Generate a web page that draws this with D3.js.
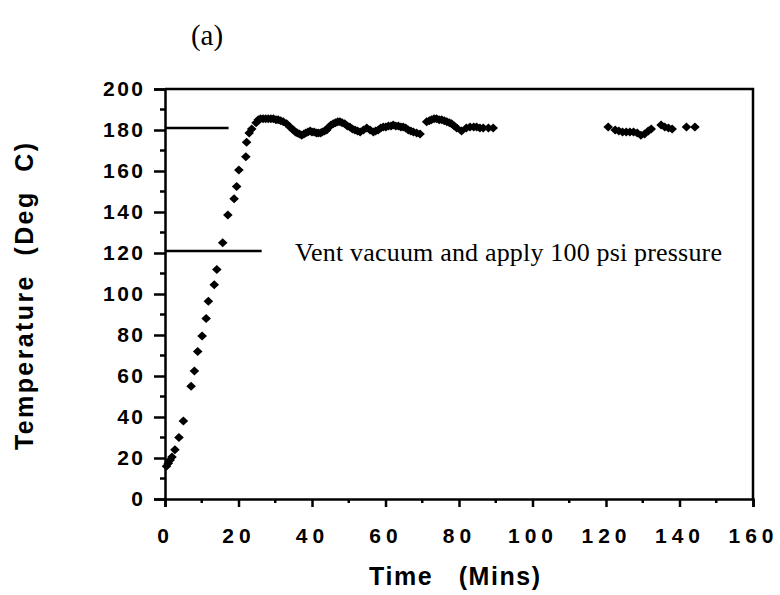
<!DOCTYPE html>
<html>
<head>
<meta charset="utf-8">
<script src="https://cdn.jsdelivr.net/npm/d3@7"></script>
<style>
  body { margin: 0; background: #fff; }
  svg text { fill: #000; }
</style>
</head>
<body>
<div id="chart"></div>
<script>
// temperature readings, time in minutes
var riseTime = [0.4, 0.9, 1.4, 1.9, 2.7, 3.8, 5.0, 7.1, 8.0, 8.9, 10.1, 11.2, 11.8, 13.4, 14.1,
    15.7, 17.1, 18.8, 19.5, 20.1, 22.0, 22.2, 22.9, 23.6, 24.8, 25.4];
var riseTemp = [16, 17.5, 19, 20.5, 24, 30, 38, 55, 62.5, 72, 79.5, 88, 96.5, 104.5, 112,
    125, 138.5, 146.5, 152.5, 160.5, 167, 174, 178.5, 180.5, 183.5, 185];

var holdTime = [26.0, 26.7, 27.4, 28.1, 28.8, 29.5, 30.2, 30.8, 31.5, 32.2, 33.1, 34.0, 34.9, 35.5,
    36.0, 36.6, 37.2, 37.8, 38.3, 38.9, 39.5, 40.0, 40.6, 41.2, 41.7, 42.3, 42.8, 43.4, 44.0, 44.6,
    45.2, 45.8, 46.4, 47.0, 47.6, 48.2, 48.9, 49.6, 50.3, 51.0, 51.7, 52.4, 53.1, 54.0, 54.9, 55.8,
    56.7, 57.3, 58.0, 58.7, 59.4, 60.1, 60.8, 61.5, 62.1, 62.8, 63.5, 64.2, 64.8, 65.5, 66.2, 66.9,
    67.6, 68.5, 69.4, 71.2, 71.9, 72.5, 73.2, 73.9, 74.6, 75.3, 76.0, 76.7, 77.4, 78.0, 78.7, 79.4,
    80.7, 82.0, 83.0, 84.0, 84.8, 85.7, 86.6, 88.0, 89.3];
var holdTemp = [185.5, 185.5, 185.5, 185.5, 185.5, 185.5, 185, 185, 184.5, 184, 183, 181.5, 180, 179,
    178.5, 178, 177.5, 178, 178.5, 179, 179.5, 179, 179, 178.5, 178.5, 178.5, 179, 179.5, 180, 181.5,
    182.5, 183, 183.5, 184, 184, 183.5, 183, 182, 181.5, 180.5, 180, 179.5, 179, 180, 181, 180,
    179, 179.5, 180, 181, 181.5, 181.5, 182, 182, 182.5, 182, 182, 181.5, 181.5, 181, 180, 179.5,
    179, 178.5, 178, 184, 184.5, 185, 185.5, 185.5, 185, 185, 184.5, 184, 183.5, 183, 182, 181,
    179.5, 181, 181.5, 181.5, 181.5, 181, 181, 181, 181];

var lateTime = [120.6, 122.5, 123.5, 124.5, 125.5, 126.5, 127.5, 128.5, 129.5, 130.5, 131.5, 132.3,
    135.0, 136.0, 137.0, 138.0, 141.9, 144.2];
var lateTemp = [181.5, 180, 179.5, 179, 179, 179, 179, 178.5, 177.5, 178, 179.5, 180.5,
    182.5, 181.5, 181, 180.5, 181.5, 181.5];

// reference lines: [temperature, end time]
var refLines = [[181, 17.3], [121, 26.3]];
var noteText = "Vent vacuum and apply 100 psi pressure";

var xTicks = d3.range(0, 161, 20);
var yTicks = d3.range(0, 201, 20);

var width = 780, height = 595;
var margin = {top: 89, right: 27, bottom: 96, left: 165};

var svg = d3.select("#chart").append("svg")
    .attr("width", width)
    .attr("height", height);

var x = d3.scaleLinear().domain([0, 160]).range([margin.left, width - margin.right]);
var y = d3.scaleLinear().domain([0, 200]).range([height - margin.bottom, margin.top]);

var tickFont = "Liberation Sans, Arial, sans-serif";

// frame top + right
svg.append("path")
    .attr("d", "M" + x(0) + "," + y(200) + " H" + x(160) + " V" + y(0))
    .attr("fill", "none")
    .attr("stroke", "#000")
    .attr("stroke-width", 2.5);

// y axis
var yAxis = svg.append("g")
    .attr("transform", "translate(" + x(0) + ",0)")
    .call(d3.axisLeft(y).tickValues(yTicks).tickSize(11).tickPadding(11));
// minor y ticks
svg.append("g").selectAll("line")
    .data(d3.range(10, 200, 20))
    .enter().append("line")
    .attr("x1", x(0) - 5).attr("x2", x(0))
    .attr("y1", function(d) { return y(d); })
    .attr("y2", function(d) { return y(d); })
    .attr("stroke", "#000").attr("stroke-width", 2.5);

// x axis
var xAxis = svg.append("g")
    .attr("transform", "translate(0," + y(0) + ")")
    .call(d3.axisBottom(x).tickValues(xTicks).tickSize(8).tickPadding(21));
svg.append("g").selectAll("line")
    .data(d3.range(10, 160, 20))
    .enter().append("line")
    .attr("x1", function(d) { return x(d); })
    .attr("x2", function(d) { return x(d); })
    .attr("y1", y(0)).attr("y2", y(0) + 4)
    .attr("stroke", "#000").attr("stroke-width", 2.5);

[xAxis, yAxis].forEach(function(a) {
    a.select(".domain").attr("stroke", "#000").attr("stroke-width", 2.5);
    a.selectAll(".tick line").attr("stroke", "#000").attr("stroke-width", 2.5);
    a.selectAll(".tick text")
        .attr("font-family", tickFont)
        .attr("font-size", 21)
        .attr("font-weight", "bold");
});
yAxis.selectAll(".tick text").style("letter-spacing", "2.5px").attr("dx", 2.5);
xAxis.selectAll(".tick text").style("letter-spacing", "5px").attr("dx", 0);

// reference lines
svg.selectAll(".ref")
    .data(refLines)
    .enter().append("line")
    .attr("class", "ref")
    .attr("x1", x(0))
    .attr("x2", function(d) { return x(d[1]); })
    .attr("y1", function(d) { return y(d[0]); })
    .attr("y2", function(d) { return y(d[0]); })
    .attr("stroke", "#000")
    .attr("stroke-width", 2.5);

svg.append("text")
    .attr("x", 295)
    .attr("y", 261)
    .attr("font-family", "Liberation Serif, Times New Roman, serif")
    .attr("font-size", 26)
    .attr("textLength", 427)
    .text(noteText);

// points
var pts = [];
[[riseTime, riseTemp], [holdTime, holdTemp], [lateTime, lateTemp]].forEach(function(s) {
    s[0].forEach(function(t, i) { pts.push([t, s[1][i]]); });
});

svg.append("g").selectAll("path")
    .data(pts)
    .enter().append("path")
    .attr("d", "M0,-4.5 L4.8,0 L0,4.5 L-4.8,0 Z")
    .attr("transform", function(d) { return "translate(" + x(d[0]) + "," + y(d[1]) + ")"; })
    .attr("fill", "#000");

// titles
svg.append("text")
    .attr("x", 207)
    .attr("y", 45)
    .attr("text-anchor", "middle")
    .attr("font-family", "Liberation Serif, Times New Roman, serif")
    .attr("font-size", 29)
    .text("(a)");

svg.append("text")
    .attr("transform", "translate(33,450) rotate(-90)")
    .attr("font-family", tickFont)
    .attr("font-weight", "bold")
    .attr("font-size", 25)
    .attr("textLength", 307)
    .style("white-space", "pre")
    .text("Temperature  (Deg  C)");

svg.append("text")
    .attr("x", 369)
    .attr("y", 585)
    .attr("font-family", tickFont)
    .attr("font-weight", "bold")
    .attr("font-size", 25)
    .attr("textLength", 171)
    .style("white-space", "pre")
    .text("Time   (Mins)");
</script>
</body>
</html>
